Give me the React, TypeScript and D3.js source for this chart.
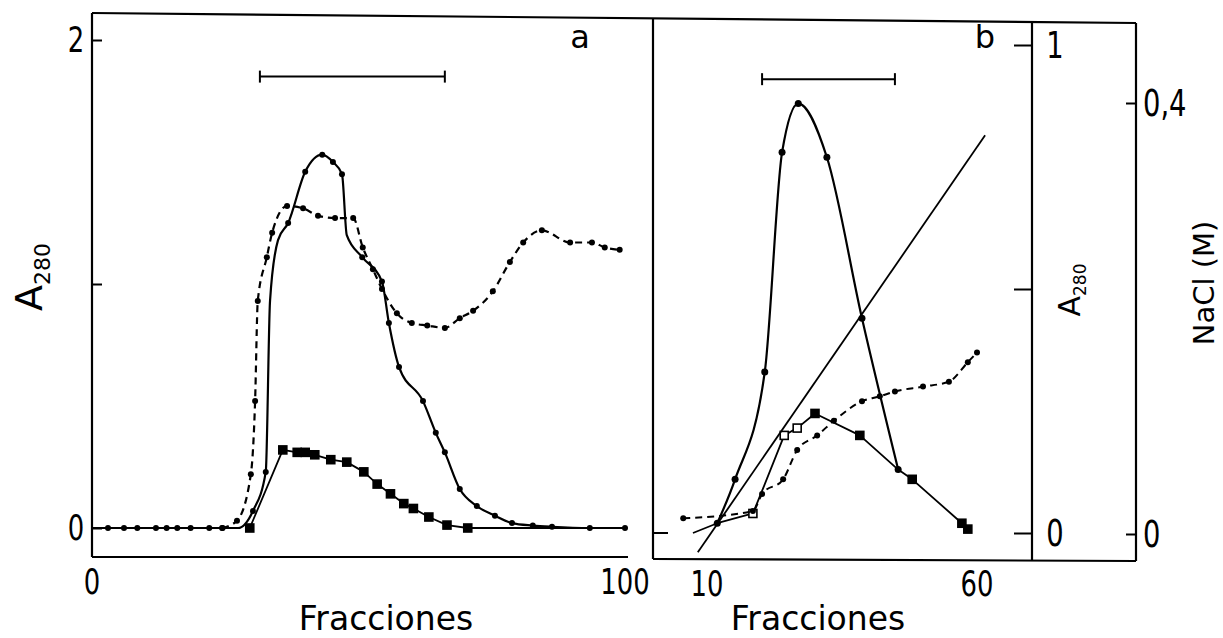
import React, { useEffect, useRef } from 'react';
import * as d3 from 'd3';

// Panel a: A280 vs fraction
const aMainFr = [0, 3, 6, 8.5, 12, 14, 16, 18.5, 22, 24.5, 27.4, 30.2, 32.6, 33.4, 34.9, 36.8, 40, 43.2, 45.2, 46.9, 47.8, 50.7, 54.4, 55.7, 57.6, 62.1, 64.5, 66.2, 69, 72.2, 75.6, 78.8, 82.7, 86.3, 93.4, 100];
const aMainVal = [0, 0, 0, 0, 0, 0, 0, 0, 0, 0, 0, 0.07, 0.23, 0.93, 1.18, 1.25, 1.46, 1.53, 1.5, 1.45, 1.2, 1.11, 1.01, 0.84, 0.66, 0.52, 0.39, 0.31, 0.16, 0.09, 0.05, 0.02, 0.01, 0.005, 0, 0];
const aMainNoMark = [0, 27.4, 33.4, 34.9, 47.8];

const aDashFr = [24.4, 27.2, 29.8, 30.6, 31.1, 32.8, 33.8, 36.6, 39.6, 42.4, 45.6, 49, 50.8, 52.7, 54.4, 57.2, 60, 62.9, 66.2, 69, 71.5, 75.2, 78.4, 80.9, 84.4, 89.7, 93.8, 96.2, 99];
const aDashVal = [0, 0.03, 0.22, 0.52, 0.93, 1.11, 1.21, 1.32, 1.31, 1.28, 1.27, 1.27, 1.15, 1.06, 0.98, 0.88, 0.84, 0.83, 0.82, 0.86, 0.89, 0.97, 1.09, 1.17, 1.22, 1.17, 1.17, 1.15, 1.14];

const aSqFr = [29.6, 35.8, 38.5, 40, 41.8, 44.8, 47.8, 51, 53.5, 56, 58.5, 60.3, 63.2, 66.6, 70.5, 100];
const aSqVal = [0, 0.32, 0.31, 0.31, 0.3, 0.28, 0.27, 0.23, 0.18, 0.14, 0.1, 0.08, 0.045, 0.012, 0, 0];

const aPool = [31.5, 66.2];
const aPoolLevel = 1.85;

// Panel b: A280 and NaCl gradient vs fraction
const bMainFr = [11.9, 15.2, 20.7, 23.9, 26.9, 32.2, 38.7, 45.4];
const bMainVal = [0.02, 0.11, 0.33, 0.78, 0.88, 0.77, 0.44, 0.13];

const bSqFr = [7.4, 11.9, 18.5, 20.7, 24.3, 26.7, 30, 38.3, 45.4, 48, 57.2, 58.3];
const bSqVal = [0, 0.02, 0.04, 0.1, 0.2, 0.215, 0.245, 0.2, 0.13, 0.11, 0.02, 0.008];
const bSqOpen = [18.5, 24.3, 26.7];

const bDashFr = [5.6, 18.5, 20.2, 24.1, 26.7, 30.4, 33.5, 38.7, 42, 44.8, 50, 54.8, 58.3, 60];
const bDashVal = [0.03, 0.045, 0.08, 0.11, 0.17, 0.2, 0.23, 0.27, 0.28, 0.29, 0.3, 0.31, 0.35, 0.37];

const gradFr = [8.3, 61.5];
const gradNaCl = [-0.017, 0.37];

const bPool = [20.2, 44.8];
const bPoolLevel = 0.93;

const aXTicks = [0, 100];
const aYTicks = [0, 1, 2];
const aYLabels = [0, 2];
const bXTicks = [10, 60];
const bYTicks = [0, 0.5, 1];
const bYLabels = [0, 1];
const naclTicks = [0, 0.4];

const TXT_FONT = '"DejaVu Sans", sans-serif';

const zip = (f: number[], v: number[]) => f.map((x, i) => [x, v[i]] as [number, number]);

const App: React.FC = () => {
  const svgRef = useRef<SVGSVGElement>(null);

  useEffect(() => {
    if (!svgRef.current) return;
    const svg = d3.select(svgRef.current);
    svg.selectAll('*').remove();

    const xa = d3.scaleLinear().domain([0, 100]).range([92, 625]);
    const ya = d3.scaleLinear().domain([0, 2]).range([528, 40]);
    const xb = d3.scaleLinear().domain([10, 60]).range([707, 977]);
    const yb = d3.scaleLinear().domain([0, 1]).range([533, 45]);
    const yn = d3.scaleLinear().domain([0, 0.4]).range([534, 103]);

    const ink = '#000';

    // narrow number labels, like the stencil digits of the original
    const numText = (x: number, y: number, anchor: string, txt: string, size = 35) =>
      svg.append('text')
        .attr('transform', `translate(${x},${y}) scale(0.74,1)`)
        .attr('text-anchor', anchor)
        .style('font-family', TXT_FONT).style('font-size', `${size}px`)
        .text(txt);

    // frame
    const frame = [
      [92, 13, 1136, 23],
      [92, 13, 92, 557],
      [92, 557, 628, 557],
      [653, 18, 653, 559],
      [653, 559, 1136, 561],
      [1032, 21, 1032, 560],
      [1136, 23, 1136, 561],
    ];
    svg.selectAll('line.frame').data(frame).enter().append('line')
      .attr('class', 'frame')
      .attr('x1', d => d[0]).attr('y1', d => d[1])
      .attr('x2', d => d[2]).attr('y2', d => d[3])
      .attr('stroke', ink).attr('stroke-width', 2.2);

    // panel a ticks
    const aAxis = svg.append('g').attr('transform', 'translate(92,0)')
      .call(d3.axisRight(ya).tickValues(aYTicks).tickSize(10).tickFormat(() => ''));
    aAxis.select('.domain').remove();
    aAxis.selectAll('line').attr('stroke-width', 2);
    aYLabels.forEach(d => numText(76, ya(d) + 12, 'middle', String(d)));
    aXTicks.forEach(d => numText(xa(d), 594, 'middle', String(d)));

    // panel b ticks
    svg.append('line').attr('x1', 653).attr('x2', 668).attr('y1', yb(0)).attr('y2', yb(0))
      .attr('stroke', ink).attr('stroke-width', 2);
    const bAxis = svg.append('g').attr('transform', 'translate(1032,0)')
      .call(d3.axisLeft(yb).tickValues(bYTicks).tickSize(18).tickFormat(() => ''));
    bAxis.select('.domain').remove();
    bAxis.selectAll('line').attr('stroke-width', 2);
    bYLabels.forEach(d => numText(1055, yb(d) + 13, 'middle', String(d), 37));

    const nAxis = svg.append('g').attr('transform', 'translate(1136,0)')
      .call(d3.axisLeft(yn).tickValues(naclTicks).tickSize(10).tickFormat(() => ''));
    nAxis.select('.domain').remove();
    nAxis.selectAll('line').attr('stroke-width', 2);
    naclTicks.forEach(d => numText(1143, yn(d) + 13, 'start',
      d === 0 ? '0' : d3.format('.1f')(d).replace('.', ','), 37));

    bXTicks.forEach(d => numText(xb(d), 596, 'middle', String(d)));

    // axis titles
    const addTitle = (x: number, y: number, txt: string) =>
      svg.append('text').attr('x', x).attr('y', y).attr('text-anchor', 'middle')
        .style('font-family', TXT_FONT).style('font-size', '33px').text(txt);
    addTitle(386, 630, 'Fracciones');
    addTitle(818, 630, 'Fracciones');

    const addA280 = (cx: number, cy: number, big: number, small: number) => {
      const t = svg.append('text')
        .attr('transform', `translate(${cx},${cy}) rotate(-90)`)
        .attr('text-anchor', 'middle')
        .style('font-family', TXT_FONT);
      t.append('tspan').style('font-size', `${big}px`).text('A');
      t.append('tspan').style('font-size', `${small}px`).attr('dy', small * 0.35).text('280');
    };
    addA280(42, 277, 38, 22);
    addA280(1080, 290, 30, 17);

    svg.append('text')
      .attr('transform', 'translate(1214,283) rotate(-90)')
      .attr('text-anchor', 'middle')
      .style('font-family', TXT_FONT).style('font-size', '29px')
      .text('NaCl (M)');

    svg.append('text').attr('x', 580).attr('y', 48).attr('text-anchor', 'middle')
      .style('font-family', TXT_FONT).style('font-size', '32px').text('a');
    svg.append('text').attr('x', 985).attr('y', 48).attr('text-anchor', 'middle')
      .style('font-family', TXT_FONT).style('font-size', '32px').text('b');

    // pooled fraction bars
    const addPool = (x0: number, x1: number, y: number) => {
      svg.append('line').attr('x1', x0).attr('x2', x1).attr('y1', y).attr('y2', y)
        .attr('stroke', ink).attr('stroke-width', 2);
      [x0, x1].forEach(x => svg.append('line').attr('x1', x).attr('x2', x)
        .attr('y1', y - 6).attr('y2', y + 6).attr('stroke', ink).attr('stroke-width', 2));
    };
    addPool(xa(aPool[0]), xa(aPool[1]), ya(aPoolLevel));
    addPool(xb(bPool[0]), xb(bPool[1]), yb(bPoolLevel));

    // series
    const drawLine = (pts: [number, number][], x: d3.ScaleLinear<number, number>, y: d3.ScaleLinear<number, number>,
      curve: d3.CurveFactory, width: number, dash?: string) => {
      const line = d3.line<[number, number]>().x(d => x(d[0])).y(d => y(d[1])).curve(curve);
      svg.append('path').attr('d', line(pts) ?? '')
        .attr('fill', 'none').attr('stroke', ink).attr('stroke-width', width)
        .attr('stroke-dasharray', dash ?? null)
        .attr('stroke-linejoin', 'round');
    };
    const drawDots = (pts: [number, number][], x: d3.ScaleLinear<number, number>, y: d3.ScaleLinear<number, number>, r: number) => {
      svg.append('g').selectAll('circle').data(pts).enter().append('circle')
        .attr('cx', d => x(d[0])).attr('cy', d => y(d[1])).attr('r', r).attr('fill', ink);
    };
    const drawSquares = (pts: [number, number][], x: d3.ScaleLinear<number, number>, y: d3.ScaleLinear<number, number>, s: number, open: number[] = []) => {
      svg.append('g').selectAll('rect').data(pts).enter().append('rect')
        .attr('x', d => x(d[0]) - s / 2).attr('y', d => y(d[1]) - s / 2)
        .attr('width', s).attr('height', s)
        .attr('fill', d => (open.includes(d[0]) ? '#fff' : ink))
        .attr('stroke', ink).attr('stroke-width', 1.6);
    };

    // panel a
    const aMain = zip(aMainFr, aMainVal);
    const aDash = zip(aDashFr, aDashVal);
    const aSq = zip(aSqFr, aSqVal);
    drawLine(aMain, xa, ya, d3.curveMonotoneX, 2.2);
    drawDots(aMain.filter(d => !aMainNoMark.includes(d[0])), xa, ya, 3);
    drawLine(aDash, xa, ya, d3.curveMonotoneX, 2.2, '7,5');
    drawDots(aDash, xa, ya, 3);
    drawLine(aSq, xa, ya, d3.curveLinear, 1.8);
    drawSquares(aSq.slice(0, -1), xa, ya, 8);

    // panel b
    const bMain = zip(bMainFr, bMainVal);
    const bSq = zip(bSqFr, bSqVal);
    const bDash = zip(bDashFr, bDashVal);
    const grad = zip(gradFr, gradNaCl);
    drawLine(bMain, xb, yb, d3.curveMonotoneX, 2.2);
    drawDots(bMain, xb, yb, 3.5);
    drawLine(bSq, xb, yb, d3.curveLinear, 1.8);
    drawSquares(bSq.slice(2).filter(d => !bMainFr.includes(d[0])), xb, yb, 8, bSqOpen);
    drawLine(bDash, xb, yb, d3.curveMonotoneX, 2, '7,5');
    drawDots(bDash, xb, yb, 3);
    drawLine(grad, xb, yn, d3.curveLinear, 1.8);
  }, []);

  return (
    <svg ref={svgRef} width={1223} height={638}
      style={{ position: 'absolute', left: 0, top: 0, background: '#fff' }} />
  );
};

export default App;
